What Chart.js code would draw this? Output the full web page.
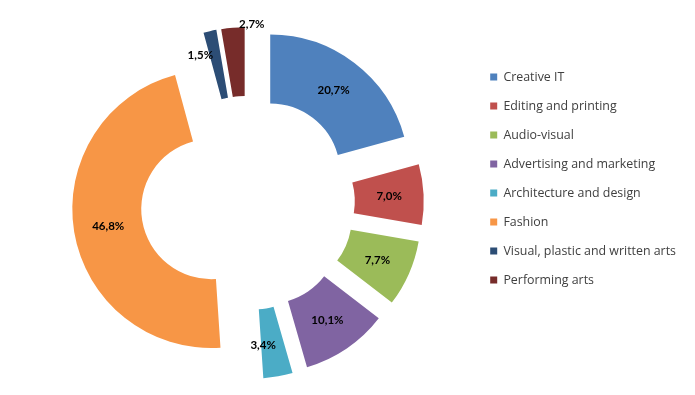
<!DOCTYPE html>
<html>
<head>
<meta charset="utf-8">
<script src="https://cdn.jsdelivr.net/npm/chart.js@4"></script>
<style>
	body { margin: 0; background: #fff; }
</style>
</head>
<body>
<canvas id="chartCanvas" width="695" height="395"></canvas>
<script>
const sectors = [
	'Creative IT',
	'Editing and printing',
	'Audio-visual',
	'Advertising and marketing',
	'Architecture and design',
	'Fashion',
	'Visual, plastic and written arts',
	'Performing arts'
]
const shares = [20.7, 7.0, 7.7, 10.1, 3.4, 46.8, 1.5, 2.7]
const colours = ['#4F81BD', '#C0504D', '#9BBB59', '#8064A2', '#4BACC6', '#F79646', '#2C4D75', '#772C2A']

// label nudges for the small slices whose label sits outside
const labelNudge = [[0, 0], [0, 0], [0, 0], [0, 0], [-9, 3], [0, 0], [-17, -9], [16, -38]]
const explodeBy = 37

const explode = {
	id: 'explode',
	beforeUpdate(chart) {
		const legend = chart.legend
		if (legend && !legend._fixed) {
			const fit = legend.fit
			legend.fit = function () {
				fit.call(this)
				this.width = 221.4
			}
			legend._fixed = true
		}
	},
	afterUpdate(chart) {
		chart.getDatasetMeta(0).data.forEach(arc => {
			const mid = (arc.startAngle + arc.endAngle) / 2
			arc.x += Math.cos(mid) * explodeBy
			arc.y += Math.sin(mid) * explodeBy
		})
	}
}

const sliceLabels = {
	id: 'sliceLabels',
	afterDatasetsDraw(chart) {
		const ctx = chart.ctx
		ctx.save()
		ctx.font = 'bold 11.5px Lato'
		ctx.fillStyle = '#000000'
		ctx.textAlign = 'center'
		ctx.textBaseline = 'middle'
		chart.getDatasetMeta(0).data.forEach((arc, i) => {
			const p = arc.tooltipPosition()
			const [dx, dy] = labelNudge[i]
			ctx.fillText(shares[i].toFixed(1).replace('.', ',') + '%', p.x + dx, p.y + dy)
		})
		ctx.restore()
	}
}

Chart.defaults.font.family = '"Open Sans"'

const ctx = document.getElementById('chartCanvas').getContext('2d')
new Chart(ctx, {
	type: 'doughnut',
	data: {
		labels: sectors,
		datasets: [{
			data: shares,
			backgroundColor: colours,
			borderWidth: 0
		}]
	},
	options: {
		responsive: false,
		animation: false,
		events: [],
		radius: 139,
		cutout: '50.4%',
		layout: { padding: { left: 22, top: 11, right: 0, bottom: 0 } },
		plugins: {
			tooltip: { enabled: false },
			legend: {
				position: 'right',
				align: 'start',
				title: { display: true, text: '', padding: { top: 0, bottom: 28.8 }, font: { size: 12 } },
				labels: {
					color: '#404040',
					boxWidth: 7,
					boxHeight: 7,
					padding: 16.6,
					font: { size: 12.4 }
				}
			}
		}
	},
	plugins: [explode, sliceLabels]
})
</script>
</body>
</html>
